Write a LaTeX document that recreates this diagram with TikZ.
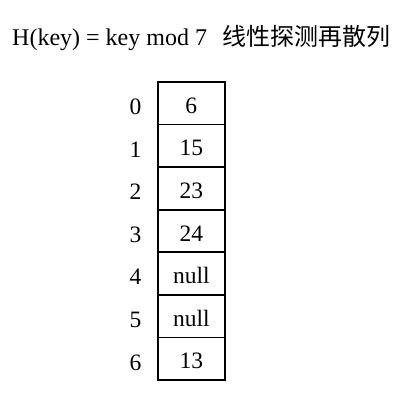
\documentclass[tikz,border=0pt]{standalone}
\usepackage{fontspec}
\setmainfont{Liberation Serif}
\newfontfamily\cjk{Noto Sans CJK SC}
\tikzset{
  slot/.style={draw, line width=1.8pt, minimum width=67pt, minimum height=42.6pt,
    inner sep=0pt, text height=20pt, text depth=0pt, font=\fontsize{23.5}{26}\selectfont},
  index/.style={inner sep=0pt, text height=20pt, text depth=0pt, font=\fontsize{23.5}{26}\selectfont}
}
\begin{document}
\begin{tikzpicture}[x=1pt,y=-1pt]
    \useasboundingbox (0,0) rectangle (408,403);
    \node[anchor=base west, inner sep=0pt, font=\fontsize{24}{28}\selectfont] (title) at (12, 46)
        { H(key) = key mod 7\hspace{15pt}{\cjk 线性探测再散列} };

    \foreach \val [count=\i from 0] in {6,15,23,24,null,null,13} {
        \node[slot] (cell\i) at (191.3, 103.3+42.6*\i) { \val };
        \node[index] (idx\i) at (135.5, 104.5+42.6*\i) { \i };
    }
\end{tikzpicture}
\end{document}
